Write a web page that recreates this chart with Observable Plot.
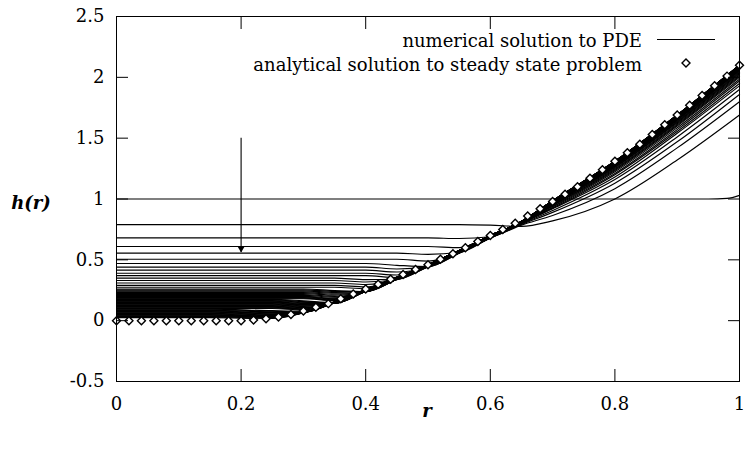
<!DOCTYPE html>
<html><head><meta charset="utf-8">
<script src="https://cdn.jsdelivr.net/npm/d3@7"></script>
<script src="https://cdn.jsdelivr.net/npm/@observablehq/plot@0.6"></script>
<style>html,body{margin:0;padding:0;background:#fff}svg{display:block}</style>
</head><body><div id="chart"></div>
<script>
// ---- axis ticks ----
const xTicks = [0, 0.2, 0.4, 0.6, 0.8, 1];
const xTickLabels = ["0", "0.2", "0.4", "0.6", "0.8", "1"];
const yTicks = [-0.5, 0, 0.5, 1, 1.5, 2, 2.5];
const yTickLabels = ["-0.5", "0", "0.5", "1", "1.5", "2", "2.5"];
const xLabel = "r";
const yLabel = "h(r)";
const legendLabels = ["numerical solution to PDE", "analytical solution to steady state problem"];

// ---- analytical steady-state solution (diamonds) ----
const rSteady = [0,0.02,0.04,0.06,0.08,0.10,0.12,0.14,0.16,0.18,0.20,0.22,0.24,0.26,0.28,0.30,0.32,0.34,0.36,0.38,0.40,0.42,0.44,0.46,0.48,0.50,0.52,0.54,0.56,0.58,0.60,0.62,0.64,0.66,0.68,0.70,0.72,0.74,0.76,0.78,0.80,0.82,0.84,0.86,0.88,0.90,0.92,0.94,0.96,0.98,1.00];
const hSteady = [0,0,0,0,0,0,0,0,0,0,0,0.005,0.015,0.03,0.05,0.08,0.11,0.14,0.18,0.22,0.26,0.30,0.34,0.38,0.42,0.46,0.505,0.55,0.60,0.65,0.70,0.75,0.80,0.86,0.92,0.98,1.04,1.10,1.17,1.24,1.31,1.38,1.45,1.53,1.61,1.69,1.77,1.85,1.93,2.01,2.10];

// ---- initial condition of the PDE ----
const rInitial = [0, 0.5, 0.95, 0.98, 1.0];
const hInitial = [1, 1, 1, 1.005, 1.03];

// ---- numerical solution snapshots (values at rGrid) ----
const rGrid = [0, 0.15, 0.25, 0.3, 0.35, 0.4, 0.45, 0.5, 0.55, 0.6, 0.65, 0.7, 0.8, 0.9, 1.0];
const numericalSnapshots = [
  [.79,.79,.79,.79,.79,.79,.79,.79,.79,.785,.775,.82,1.0,1.32,1.69],
  [.68,.68,.68,.68,.68,.68,.68,.68,.675,.69,.785,.865,1.085,1.42,1.80],
  [.61,.61,.61,.61,.61,.61,.61,.61,.60,.68,.79,.89,1.13,1.47,1.86],
  [.555,.555,.555,.555,.555,.555,.555,.545,.56,.68,.795,.905,1.16,1.51,1.90],
  [.505,.505,.505,.505,.505,.505,.505,.49,.555,.68,.80,.92,1.18,1.54,1.93],
  [.47,.47,.47,.47,.47,.47,.455,.445,.555,.68,.80,.925,1.20,1.555,1.95],
  [.44,.44,.44,.44,.44,.44,.425,.44,.556,.681,.80,.933,1.21,1.57,1.97],
  [.415,.415,.415,.415,.415,.415,.40,.441,.557,.682,.804,.939,1.224,1.586,1.985],
  [.39,.39,.39,.39,.39,.39,.375,.442,.558,.683,.805,.945,1.235,1.60,2.00],
  [.37,.37,.37,.37,.37,.37,.355,.443,.559,.684,.806,.949,1.243,1.609,2.01],
  [.35,.35,.35,.35,.35,.337,.34,.444,.56,.685,.807,.953,1.25,1.618,2.02],
  [.33,.33,.33,.33,.33,.318,.338,.445,.561,.686,.808,.957,1.258,1.627,2.03],
  [.31,.31,.31,.31,.31,.297,.337,.446,.562,.687,.809,.96,1.263,1.634,2.038],
  [.29,.29,.29,.29,.29,.277,.338,.447,.563,.688,.81,.963,1.269,1.64,2.045],
  [.275,.275,.275,.275,.275,.262,.339,.448,.564,.689,.81,.966,1.274,1.647,2.052],
  [.26,.26,.26,.26,.248,.24,.34,.449,.565,.69,.811,.968,1.278,1.652,2.058],
  [.253,.253,.253,.253,.240,.239,.3405,.4495,.5655,.6905,.811,.969,1.28,1.654,2.06],
  [.245,.245,.245,.245,.232,.238,.341,.45,.566,.691,.811,.97,1.282,1.657,2.063],
  [.238,.238,.238,.238,.225,.2375,.3415,.4505,.5665,.6915,.8115,.971,1.284,1.659,2.066],
  [.23,.23,.23,.23,.217,.237,.342,.451,.567,.692,.812,.972,1.286,1.661,2.068],
  [.223,.223,.223,.223,.209,.2375,.3425,.4515,.5675,.6925,.812,.973,1.288,1.663,2.07],
  [.215,.215,.215,.215,.20,.238,.343,.452,.568,.693,.812,.974,1.289,1.665,2.072],
  [.208,.208,.208,.208,.193,.2385,.3435,.4525,.5685,.6935,.8125,.9745,1.29,1.667,2.074],
  [.20,.20,.20,.20,.185,.239,.344,.453,.569,.694,.813,.975,1.292,1.668,2.076],
  [.195,.195,.195,.195,.18,.2395,.3445,.4535,.5695,.6945,.813,.976,1.293,1.67,2.078],
  [.19,.19,.19,.19,.175,.24,.345,.454,.57,.695,.813,.977,1.294,1.671,2.079],
  [.185,.185,.185,.185,.17,.2405,.3455,.4545,.5705,.6955,.813,.9775,1.295,1.672,2.08],
  [.18,.18,.18,.18,.165,.241,.346,.455,.571,.696,.813,.978,1.296,1.674,2.082],
  [.175,.175,.175,.163,.150,.2415,.3465,.4555,.5715,.6965,.8135,.9785,1.297,1.675,2.083],
  [.17,.17,.17,.157,.145,.242,.347,.456,.572,.697,.814,.979,1.299,1.677,2.085],
  [.165,.165,.165,.152,.144,.2425,.3475,.4565,.5725,.6975,.814,.9795,1.2995,1.6775,2.086],
  [.16,.16,.16,.147,.143,.243,.348,.457,.573,.698,.814,.98,1.30,1.678,2.087],
  [.155,.155,.155,.142,.143,.2435,.3485,.4575,.5735,.6985,.814,.9805,1.301,1.679,2.088],
  [.15,.15,.15,.137,.143,.244,.349,.458,.574,.699,.814,.981,1.302,1.68,2.089],
  [.145,.145,.145,.132,.1435,.2445,.3495,.458,.574,.699,.814,.981,1.3025,1.681,2.09],
  [.14,.14,.14,.127,.144,.245,.35,.458,.574,.699,.814,.981,1.303,1.682,2.091],
  [.135,.135,.135,.122,.1445,.2455,.3505,.4585,.5745,.6995,.8145,.9815,1.304,1.683,2.092],
  [.13,.13,.13,.117,.145,.246,.351,.459,.575,.70,.815,.982,1.305,1.684,2.093],
  [.125,.125,.125,.112,.1455,.2465,.3515,.459,.575,.70,.815,.9825,1.3055,1.6845,2.0935],
  [.12,.12,.12,.107,.146,.247,.352,.459,.575,.70,.815,.983,1.306,1.685,2.094],
  [.115,.115,.115,.102,.1465,.2475,.3525,.4595,.5755,.70,.815,.983,1.306,1.6855,2.0945],
  [.11,.11,.11,.097,.147,.248,.353,.46,.576,.70,.815,.983,1.306,1.686,2.095],
  [.105,.105,.105,.092,.1475,.2485,.3535,.46,.576,.70,.815,.983,1.3065,1.686,2.0955],
  [.10,.10,.10,.087,.148,.249,.354,.46,.576,.70,.815,.983,1.307,1.686,2.096],
  [.095,.095,.082,.078,.1485,.2495,.3545,.46,.576,.70,.815,.9835,1.3075,1.6865,2.0965],
  [.09,.09,.077,.07,.149,.25,.355,.46,.576,.70,.815,.984,1.308,1.687,2.097],
  [.085,.085,.072,.0695,.1495,.2505,.355,.46,.576,.70,.815,.984,1.308,1.6875,2.0975],
  [.08,.08,.067,.069,.15,.251,.355,.46,.576,.70,.815,.984,1.308,1.688,2.098],
  [.075,.075,.062,.0685,.1505,.2515,.3555,.46,.576,.70,.815,.984,1.308,1.688,2.098],
  [.07,.07,.057,.068,.151,.252,.356,.46,.576,.70,.815,.984,1.308,1.688,2.098],
  [.065,.065,.052,.0675,.1515,.2525,.356,.46,.576,.70,.815,.9845,1.3085,1.6885,2.0985],
  [.06,.06,.047,.067,.152,.253,.356,.46,.576,.70,.815,.985,1.309,1.689,2.099],
  [.055,.055,.042,.0665,.1525,.2535,.3565,.46,.576,.70,.815,.985,1.309,1.689,2.099],
  [.05,.05,.037,.066,.153,.254,.357,.46,.576,.70,.815,.985,1.309,1.689,2.099],
  [.045,.045,.034,.066,.1535,.2545,.357,.46,.576,.70,.815,.985,1.3095,1.6895,2.0995],
  [.04,.04,.03,.066,.154,.255,.357,.46,.576,.70,.815,.985,1.31,1.69,2.10],
  [.035,.035,.026,.0655,.1545,.2555,.3575,.46,.576,.70,.815,.985,1.31,1.69,2.10],
  [.03,.03,.022,.065,.155,.256,.358,.46,.576,.70,.815,.985,1.31,1.69,2.10],
  [.025,.025,.018,.065,.1555,.2565,.358,.46,.576,.70,.815,.985,1.31,1.69,2.10]
];

// ---- annotation arrow (time direction) ----
const arrowR = 0.2, arrowFrom = 1.5, arrowTo = 0.56;

// ---- build tables ----
const numericalTable = [
  ...rInitial.map((r, j) => ({r, h: hInitial[j], k: -1})),
  ...numericalSnapshots.flatMap((row, k) => row.map((h, j) => ({r: rGrid[j], h, k})))
];
const steadyTable = rSteady.map((r, i) => ({r, h: hSteady[i]}));
const arrowTable = [{r: arrowR, y1: arrowFrom, y2: arrowTo}];

const FONT = "DejaVu Serif";
const fmtX = d => xTickLabels[xTicks.indexOf(d)];
const fmtY = d => yTickLabels[yTicks.indexOf(d)];

const chart = Plot.plot({
  width: 746, height: 449,
  marginLeft: 116, marginRight: 7, marginTop: 16, marginBottom: 68,
  x: {domain: [0, 1]},
  y: {domain: [-0.5, 2.5]},
  style: {fontFamily: FONT, fontSize: "18px", color: "black", background: "white", overflow: "visible"},
  marks: [
    Plot.line(numericalTable, {x: "r", y: "h", z: "k", stroke: "black", strokeWidth: 1.15, curve: "monotone-x"}),
    Plot.ruleX(arrowTable, {x: "r", y1: "y1", y2: "y2", stroke: "black", strokeWidth: 1.1}),
    Plot.dot(arrowTable, {x: "r", y: "y2", symbol: "triangle", rotate: 180, r: 2.5, fill: "black", stroke: null, dy: -3.9}),
    Plot.dot(steadyTable, {x: "r", y: "h", symbol: "diamond2", r: 3.6, fill: "white", stroke: "black", strokeWidth: 1.4}),
    Plot.frame({stroke: "black", strokeWidth: 1}),
    Plot.axisX(xTicks, {anchor: "bottom", tickSize: -12, tickPadding: 28, tickFormat: fmtX, label: null}),
    Plot.axisX(xTicks, {anchor: "top", tickSize: -12, fill: "none", tickFormat: () => "", label: null}),
    Plot.axisY(yTicks, {anchor: "left", tickSize: -12, tickPadding: 24, tickFormat: fmtY, label: null}),
    Plot.axisY(yTicks, {anchor: "right", tickSize: -12, fill: "none", tickFormat: () => "", label: null})
  ]
});
document.getElementById("chart").append(chart);

// ---- legend and axis titles ----
const svg = d3.select(chart);
const g = svg.append("g").attr("font-family", FONT).attr("font-size", 18).attr("fill", "black");
g.append("text").attr("x", 642).attr("y", 40).attr("text-anchor", "end").attr("dominant-baseline", "central").text(legendLabels[0]);
g.append("line").attr("x1", 657).attr("x2", 715).attr("y1", 39.5).attr("y2", 39.5).attr("stroke", "black").attr("stroke-width", 1.1);
g.append("text").attr("x", 642).attr("y", 64).attr("text-anchor", "end").attr("dominant-baseline", "central").text(legendLabels[1]);
const dsym = d3.symbol(d3.symbolDiamond2, Math.PI * 3.6 * 3.6)();
g.append("path").attr("d", dsym).attr("transform", "translate(686,63)").attr("fill", "white").attr("stroke", "black").attr("stroke-width", 1.4);
g.append("text").attr("x", 31).attr("y", 202).attr("text-anchor", "middle").attr("dominant-baseline", "central")
  .attr("font-style", "italic").attr("font-weight", "bold").text(yLabel);
g.append("text").attr("x", 427).attr("y", 410).attr("text-anchor", "middle").attr("dominant-baseline", "central")
  .attr("font-style", "italic").attr("font-weight", "bold").text(xLabel);
</script>
</body></html>
